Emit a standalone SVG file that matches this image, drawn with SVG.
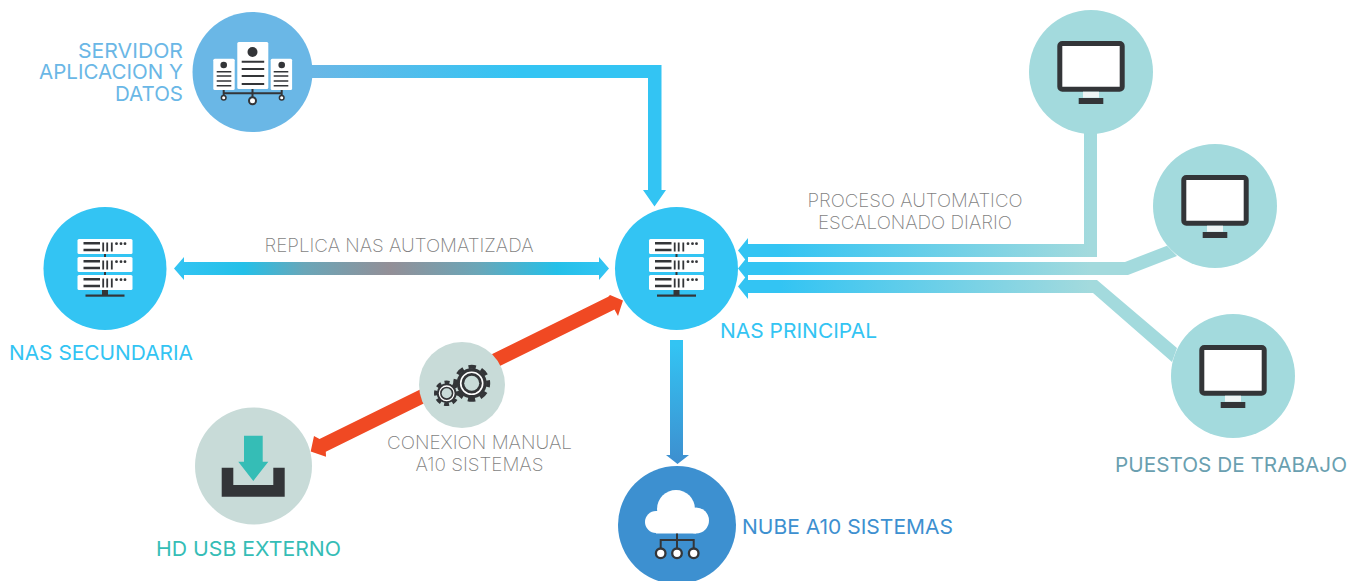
<svg xmlns="http://www.w3.org/2000/svg" width="1362" height="581" viewBox="0 0 1362 581">
<style>
text{font-family:"Inter","Lato","Liberation Sans",sans-serif;font-size:20px;font-weight:400}
.g{font-weight:200;fill:#7f7f7f;font-size:18px}
.d{fill:#333538}.w{fill:#fff}
.ln{stroke:#333538;stroke-width:2;fill:none}
</style>
<defs>
<linearGradient id="gTop" gradientUnits="userSpaceOnUse" x1="312" y1="0" x2="520" y2="0"><stop offset="0" stop-color="#6ab7e6"/><stop offset="1" stop-color="#33c4f3"/></linearGradient>
<linearGradient id="gRep" gradientUnits="userSpaceOnUse" x1="174" y1="0" x2="609" y2="0"><stop offset="0" stop-color="#33c4f3"/><stop offset=".16" stop-color="#24c0e8"/><stop offset=".3" stop-color="#6aa6b8"/><stop offset=".497" stop-color="#938f97"/><stop offset=".7" stop-color="#6aa6b8"/><stop offset=".88" stop-color="#24c0e8"/><stop offset="1" stop-color="#33c4f3"/></linearGradient>
<linearGradient id="gRight" gradientUnits="userSpaceOnUse" x1="780" y1="0" x2="1090" y2="0"><stop offset="0" stop-color="#33c4f3"/><stop offset="1" stop-color="#a3dadd"/></linearGradient>
<linearGradient id="gDown" gradientUnits="userSpaceOnUse" x1="0" y1="345" x2="0" y2="460"><stop offset="0" stop-color="#33c4f3"/><stop offset="1" stop-color="#3d90d0"/></linearGradient>
<g id="row"><rect x="-27.500" y="-29.500" width="55" height="15" rx="1.500" class="w"/><path d="M-21.500-25.200H-5M-21.500-18.500H-5" stroke="#333538" stroke-width="2.500" fill="none"/><path d="M-1.800-26v9M2.200-26v9M6.800-26v9" stroke="#333538" stroke-width="1.800" fill="none"/><circle cx="11.500" cy="-24.800" r="1.400" class="d"/><circle cx="16" cy="-24.800" r="1.400" class="d"/><circle cx="20" cy="-24.800" r="1.400" class="d"/></g>
<g id="rack">
<use href="#row"/><use href="#row" y="18"/><use href="#row" y="36"/>
<path d="M0-14.500v3M0 3.500v3" stroke="#333538" stroke-width="2"/>
<path d="M-3 21.500h6v5h-6z" class="d"/><rect x="-19.500" y="26" width="39" height="2.200" class="d"/>
</g>
<g id="mon">
<rect x="-31.200" y="-28.500" width="62.400" height="45.700" rx="2.500" fill="#fff" stroke="#333538" stroke-width="5"/>
<rect x="-8" y="19.700" width="16" height="6" fill="#eef4f4"/>
<rect x="-12.300" y="26" width="24.600" height="6" class="d"/>
</g>
</defs>
<g id="connectors">
<path fill="url(#gTop)" d="M312 65H661.500V190H666L654.500 206.500 643 190H648V78H312Z"/>
<path fill="url(#gRep)" d="M174 268.500 184 257V262H599V257L609 268.500 599 280V275H184V280Z"/>
<path fill="url(#gRight)" d="M738 250.500 748 238V244H1084V130H1097V257H748V263Z"/>
<path fill="url(#gRight)" d="M738 268.500 748 256V262H1125L1167 245.700 1177 256 1128 275H748V281Z"/>
<path fill="url(#gRight)" d="M738 286.500 748 274V280H1097L1177 348 1172 362 1093 293H748V299Z"/>
<path fill="url(#gDown)" d="M670 340H683V455H689L677.500 464 666 455H670Z"/>
<path fill="#f04923" d="M310.700 451.500 314 436 319.500 439 608.200 296.800 610 295 623 300.500 618 316 614.500 309.600 325.800 451.800 326 456.700Z"/>
</g>
<g id="server"><circle cx="252.500" cy="72" r="60" fill="#6ab7e6"/>
<rect x="237.300" y="42" width="31" height="47" rx="1.500" class="w"/><rect x="213.300" y="58.700" width="21.400" height="31.300" rx="1.500" class="w"/><rect x="270.700" y="58.700" width="21.400" height="31.300" rx="1.500" class="w"/>
<circle cx="252.500" cy="52" r="5" class="d"/><circle cx="223.700" cy="65" r="3.300" class="d"/><circle cx="281.700" cy="65" r="3.300" class="d"/>
<path d="M241.700 61.700h22.500M241.700 69h22.500M241.700 76h22.500M241.700 84h22.500" stroke="#333538" stroke-width="2"/>
<path d="M216.700 71.700h14.600M216.700 76h14.600M216.700 81h14.600M216.700 85.700h14.600M273.700 71.700h14.600M273.700 76h14.600M273.700 81h14.600M273.700 85.700h14.600" stroke="#333538" stroke-width="1.500"/>
<path d="M223.700 93.300h58M252.500 89v8M223.700 90v5M281.700 90v5" class="ln" stroke-width="1.500"/>
<circle cx="252.500" cy="100.700" r="3.500" fill="#fff" stroke="#333538" stroke-width="2"/><circle cx="223.700" cy="97.700" r="2.300" fill="#fff" stroke="#333538" stroke-width="1.500"/><circle cx="281.700" cy="97.700" r="2.300" fill="#fff" stroke="#333538" stroke-width="1.500"/>
<text x="183" y="58" text-anchor="end" fill="#6ab7e6" textLength="105" lengthAdjust="spacingAndGlyphs">SERVIDOR</text><text x="183" y="79" text-anchor="end" fill="#6ab7e6" textLength="144" lengthAdjust="spacingAndGlyphs">APLICACION Y</text><text x="183" y="101" text-anchor="end" fill="#6ab7e6" textLength="68" lengthAdjust="spacingAndGlyphs">DATOS</text>
</g>
<g id="nas-principal"><circle cx="676.500" cy="268.500" r="61.500" fill="#33c4f3"/><use href="#rack" x="676.500" y="268.500"/><text x="720" y="338" fill="#33c4f3" textLength="157" lengthAdjust="spacingAndGlyphs">NAS PRINCIPAL</text></g>
<g id="nas-secundaria"><circle cx="105" cy="268.500" r="61.500" fill="#33c4f3"/><use href="#rack" x="105" y="268.500"/><text x="9" y="360" fill="#33c4f3" textLength="184" lengthAdjust="spacingAndGlyphs">NAS SECUNDARIA</text></g>
<g id="hd"><circle cx="253.500" cy="466" r="58.500" fill="#c8dbd8"/>
<path class="d" d="M221.700 467.700H233.300V485H273.300V467.700H284.700V496.700H221.700Z"/>
<path fill="#35bdb6" d="M244 435.700H262.700V461.700H268.300L253.300 481 238.300 461.700H244Z"/>
<text x="156" y="556" fill="#35bdb6" textLength="185" lengthAdjust="spacingAndGlyphs">HD USB EXTERNO</text></g>
<g id="gears"><circle cx="462" cy="385" r="43" fill="#c8dbd8"/>
<circle cx="471.700" cy="383.300" r="15" class="d"/><circle cx="471.700" cy="383.300" r="16.500" fill="none" stroke="#333538" stroke-width="4" stroke-dasharray="7.500 5.460" stroke-dashoffset="3.750"/><circle cx="471.700" cy="383.300" r="11" fill="none" stroke="#fff" stroke-width="1.600"/><circle cx="471.700" cy="383.300" r="7.500" fill="#c8dbd8"/>
<circle cx="446.700" cy="393.300" r="10" class="d"/><circle cx="446.700" cy="393.300" r="11" fill="none" stroke="#333538" stroke-width="3.400" stroke-dasharray="5 3.640" stroke-dashoffset="2.500"/><circle cx="446.700" cy="393.300" r="7.300" fill="none" stroke="#fff" stroke-width="1.300"/><circle cx="446.700" cy="393.300" r="5" fill="#c8dbd8"/>
<text class="g" x="479.500" y="449" text-anchor="middle" textLength="185" lengthAdjust="spacingAndGlyphs">CONEXION MANUAL</text><text class="g" x="479.500" y="471" text-anchor="middle" textLength="128" lengthAdjust="spacingAndGlyphs">A10 SISTEMAS</text></g>
<g id="nube"><circle cx="677" cy="525" r="59" fill="#3d90d0"/>
<g class="w"><circle cx="676" cy="509" r="19"/><circle cx="656" cy="522" r="11"/><circle cx="696" cy="520.500" r="13"/><rect x="656" y="511" width="40" height="22.500"/></g>
<path class="ln" d="M677 533.500V548M660.700 548V540H693.700V548"/>
<circle cx="660.700" cy="553.300" r="4.800" fill="#fff" stroke="#333538" stroke-width="2.300"/><circle cx="677" cy="553.300" r="4.800" fill="#fff" stroke="#333538" stroke-width="2.300"/><circle cx="693.700" cy="553.300" r="4.800" fill="#fff" stroke="#333538" stroke-width="2.300"/>
<text x="742" y="534" fill="#3d90d0" textLength="211" lengthAdjust="spacingAndGlyphs">NUBE A10 SISTEMAS</text></g>
<g id="pc1"><circle cx="1091" cy="72" r="62" fill="#a3dadd"/><use href="#mon" x="1091" y="72"/></g>
<g id="pc2"><circle cx="1215" cy="206" r="62" fill="#a3dadd"/><use href="#mon" x="1215" y="206"/></g>
<g id="pc3"><circle cx="1233" cy="376" r="62" fill="#a3dadd"/><use href="#mon" x="1233" y="376"/><text x="1115" y="472" fill="#6a9fb0" textLength="232" lengthAdjust="spacingAndGlyphs">PUESTOS DE TRABAJO</text></g>
<g id="labels"><text class="g" x="399" y="252" text-anchor="middle" textLength="269" lengthAdjust="spacingAndGlyphs">REPLICA NAS AUTOMATIZADA</text><text class="g" x="915" y="207" text-anchor="middle" textLength="215" lengthAdjust="spacingAndGlyphs">PROCESO AUTOMATICO</text><text class="g" x="915" y="229" text-anchor="middle" textLength="194" lengthAdjust="spacingAndGlyphs">ESCALONADO DIARIO</text></g>
</svg>
